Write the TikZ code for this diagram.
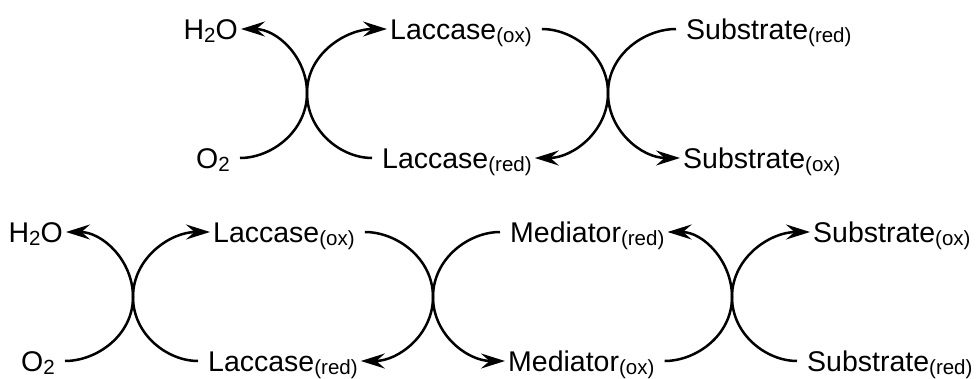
\documentclass[tikz,border=0pt]{standalone}
\usepackage{fontspec}
\setmainfont{Liberation Sans}
\usetikzlibrary{arrows.meta}
\newcommand{\sub}[1]{\raisebox{-3pt}{\fontsize{20.5}{24}\selectfont #1}}

\begin{document}
\begin{tikzpicture}[x=1pt, y=1pt,
  species/.style={font=\fontsize{28.5}{34}\selectfont, inner xsep=3pt,
                  inner ysep=0pt, text height=20.5pt, text depth=0pt},
  flow/.style={line width=2.5pt, shorten <=7pt,
               -{Stealth[length=24pt, width=15pt, inset=8.5pt]}}
]
  \useasboundingbox (0,0) rectangle (978,-378);

  % Laccase with substrate
  \node[species, anchor=east] (h2oT) at (241,-29) {H\sub{2}O};
  \node[species, anchor=east] (o2T) at (233,-158) {O\sub{2}};
  \node[species, anchor=west] (lacoxT) at (387,-29) {Laccase\sub{(ox)}};
  \node[species, anchor=west] (lacredT) at (379,-158) {Laccase\sub{(red)}};
  \node[species, anchor=west] (subredT) at (683,-29) {Substrate\sub{(red)}};
  \node[species, anchor=west] (suboxT) at (680,-158) {Substrate\sub{(ox)}};
  \coordinate (xT1) at (307,-93);
  \coordinate (xT2) at (608,-93);

  \draw[flow] (o2T) to[out=0, in=-90] (xT1) to[out=90, in=0] (h2oT);
  \draw[flow] (lacredT) to[out=180, in=-90] (xT1) to[out=90, in=180] (lacoxT);
  \draw[flow] (lacoxT) to[out=0, in=90] (xT2) to[out=-90, in=0] (lacredT);
  \draw[flow] (subredT) to[out=180, in=90] (xT2) to[out=-90, in=180] (suboxT);

  % Laccase-mediator system
  \node[species, anchor=east] (h2oB) at (66,-232) {H\sub{2}O};
  \node[species, anchor=east] (o2B) at (58,-361) {O\sub{2}};
  \node[species, anchor=west] (lacoxB) at (210,-232) {Laccase\sub{(ox)}};
  \node[species, anchor=west] (lacredB) at (205,-361) {Laccase\sub{(red)}};
  \node[species, anchor=west] (medredB) at (507,-232) {Mediator\sub{(red)}};
  \node[species, anchor=west] (medoxB) at (505,-361) {Mediator\sub{(ox)}};
  \node[species, anchor=west] (suboxB) at (810,-232) {Substrate\sub{(ox)}};
  \node[species, anchor=west] (subredB) at (804,-361) {Substrate\sub{(red)}};
  \coordinate (xB1) at (133,-297);
  \coordinate (xB2) at (433,-297);
  \coordinate (xB3) at (732,-297);

  \draw[flow] (o2B) to[out=0, in=-90] (xB1) to[out=90, in=0] (h2oB);
  \draw[flow] (lacredB) to[out=180, in=-90] (xB1) to[out=90, in=180] (lacoxB);
  \draw[flow] (lacoxB) to[out=0, in=90] (xB2) to[out=-90, in=0] (lacredB);
  \draw[flow] (medredB) to[out=180, in=90] (xB2) to[out=-90, in=180] (medoxB);
  \draw[flow] (medoxB) to[out=0, in=-90] (xB3) to[out=90, in=0] (medredB);
  \draw[flow] (subredB) to[out=180, in=-90] (xB3) to[out=90, in=180] (suboxB);
\end{tikzpicture}
\end{document}
